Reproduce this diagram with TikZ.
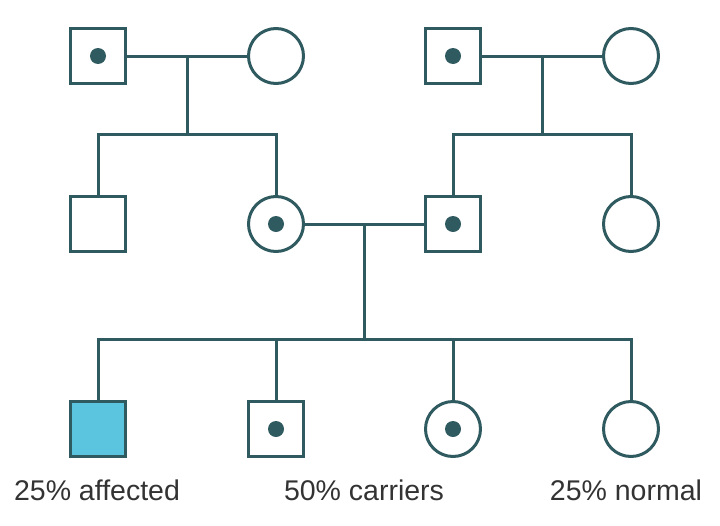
\documentclass[tikz,border=0pt]{standalone}
\usepackage{fontspec}
\setmainfont{Liberation Sans}
\usetikzlibrary{calc}
\definecolor{pedline}{HTML}{2E5A60}
\definecolor{affected}{HTML}{5BC4DE}
\definecolor{labeltext}{HTML}{333333}
\tikzset{
  male/.style={draw=pedline, line width=3pt, rectangle, minimum size=55pt, inner sep=0pt},
  female/.style={draw=pedline, line width=3pt, circle, minimum size=55pt, inner sep=0pt},
  ill/.style={fill=affected},
  link/.style={draw=pedline, line width=3pt},
  result/.style={text=labeltext, font=\fontsize{28.5}{32}\selectfont, inner sep=0pt}
}

\begin{document}
\begin{tikzpicture}[x=1pt, y=-1pt]

     \useasboundingbox (0, 0) rectangle (720, 525);

     % grandparents
     \node (A) at (98, 56) [male] {};
     \node (B) at (276, 56) [female] {};
     \node (C) at (453, 56) [male] {};
     \node (D) at (631, 56) [female] {};

     % parents and their siblings
     \node (E) at (98, 224) [male] {};
     \node (F) at (276, 224) [female] {};
     \node (G) at (453, 224) [male] {};
     \node (H) at (631, 224) [female] {};

     % children
     \node (K) at (98, 429) [male, ill] {};
     \node (L) at (276, 429) [male] {};
     \node (M) at (453, 429) [female] {};
     \node (N) at (631, 429) [female] {};

     \foreach \n in {A, C, F, G, L, M}
         \fill [pedline] (\n) circle (8);

     \coordinate (j1) at ($(A.east)!0.5!(B.west)$);
     \coordinate (j2) at ($(C.east)!0.5!(D.west)$);
     \coordinate (j3) at ($(F.east)!0.5!(G.west)$);
     \coordinate (s1) at (j1 |- 0, 134);
     \coordinate (s2) at (j2 |- 0, 134);
     \coordinate (s3) at (j3 |- 0, 339);

     \draw [link] (A) -- (B);
     \draw [link] (C) -- (D);
     \draw [link] (F) -- (G);

     \draw [link] (j1) -- (s1);
     \draw [link] (j2) -- (s2);
     \draw [link] (j3) -- (s3);

     \draw [link] (E.north) |- (s1) -| (F.north);
     \draw [link] (G.north) |- (s2) -| (H.north);
     \draw [link] (K.north) |- (s3) -| (N.north);
     \draw [link] (L.north) -- (L.north |- s3);
     \draw [link] (M.north) -- (M.north |- s3);

     \node (r1) at (97, 490) [result] {25\% affected};
     \node (r2) at (364, 490) [result] {50\% carriers};
     \node (r3) at (626, 490) [result] {25\% normal};

\end{tikzpicture}
\end{document}
